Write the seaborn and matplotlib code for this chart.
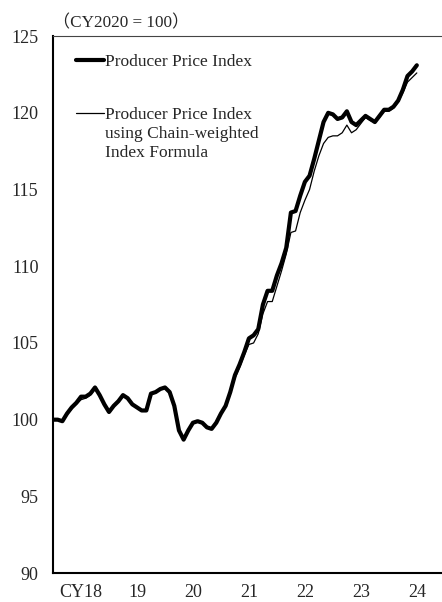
import matplotlib
matplotlib.use("Agg")
import matplotlib.pyplot as plt
import seaborn as sns
import pandas as pd
import numpy as np

# Monthly data, Jan 2018 - Jul 2024 (CY2020 = 100)
meses = pd.period_range("2018-01", "2024-07", freq="M")

ppi = [100.0, 100.0, 99.9, 100.4, 100.8, 101.1, 101.5, 101.5, 101.7, 102.1, 101.6, 101.0,
       100.5, 100.9, 101.2, 101.6, 101.4, 101.0, 100.8, 100.6, 100.6, 101.7, 101.8, 102.0,
       102.1, 101.8, 100.9, 99.3, 98.7, 99.3, 99.8, 99.9, 99.8, 99.5, 99.4, 99.8,
       100.4, 100.9, 101.8, 102.9, 103.6, 104.4, 105.3, 105.5, 105.9, 107.5, 108.4, 108.4,
       109.4, 110.2, 111.2, 113.5, 113.6, 114.6, 115.5, 115.9, 117.0, 118.2, 119.4, 120.0,
       119.9, 119.6, 119.7, 120.1, 119.4, 119.2, 119.5, 119.8, 119.6, 119.4, 119.8, 120.2,
       120.2, 120.4, 120.8, 121.5, 122.4, 122.7, 123.1]

ppi_cadena = [100.0, 100.0, 99.9, 100.3, 100.7, 101.0, 101.3, 101.4, 101.6, 102.0, 101.6, 101.0,
              100.5, 100.9, 101.2, 101.6, 101.4, 101.0, 100.8, 100.6, 100.6, 101.7, 101.8, 102.0,
              102.1, 101.8, 100.9, 99.3, 98.7, 99.3, 99.8, 99.9, 99.8, 99.5, 99.4, 99.8,
              100.4, 100.9, 101.7, 102.7, 103.4, 104.2, 104.9, 105.0, 105.6, 106.9, 107.7, 107.7,
              108.7, 109.7, 110.8, 112.2, 112.3, 113.5, 114.3, 115.0, 116.2, 117.2, 118.0, 118.4,
              118.5, 118.5, 118.7, 119.2, 118.7, 118.9, 119.3, 119.7, 119.5, 119.4, 119.7, 120.1,
              120.1, 120.3, 120.7, 121.3, 122.0, 122.3, 122.6]

etiquetas_anios = ["CY18", "19", "20", "21", "22", "23", "24"]
etiqueta_1 = "Producer Price Index"
etiqueta_2 = "Producer Price Index\nusing Chain-weighted\nIndex Formula"

# months since Jan 2018
x = [(m.year - 2018) * 12 + (m.month - 1) for m in meses]
df = pd.DataFrame({"mes": x, "ppi": ppi, "cadena": ppi_cadena})

sns.set_style("white")
plt.rcParams["font.family"] = ["Liberation Serif", "Noto Sans CJK JP"]

fig = plt.figure(figsize=(4.42, 6.02), dpi=100)
ax = fig.add_axes([0.12, 0.048, 0.88, 0.892])

sns.lineplot(data=df, x="mes", y="ppi", ax=ax, color="black", linewidth=3.0)
sns.lineplot(data=df, x="mes", y="cadena", ax=ax, color="black", linewidth=0.9)
h1, h2 = ax.lines[0], ax.lines[1]

ax.set_xlim(0, 83.4)
ax.set_ylim(90, 125)
ax.set_yticks(np.arange(90, 126, 5))
ax.set_xticks(np.arange(12, 84, 12))
ax.set_xticks(np.arange(6, 84, 12), minor=True)
ax.set_xticklabels([])
ax.set_xticklabels(etiquetas_anios, minor=True)
ax.tick_params(axis="x", which="major", direction="in", length=5, width=1, color="#555555")
ax.tick_params(axis="x", which="minor", length=0, pad=8, labelsize=13)
ax.tick_params(axis="y", direction="in", length=4, width=1, color="#555555", pad=10.5, labelsize=13)
ax.set_xlabel("")
ax.set_ylabel("")

for s in ["left", "bottom"]:
    ax.spines[s].set_color("black")
    ax.spines[s].set_linewidth(1.5)
ax.spines["top"].set_color("#444444")
ax.spines["top"].set_linewidth(0.8)
ax.spines["right"].set_visible(False)

leg = ax.legend([h1, h2], [etiqueta_1, etiqueta_2], loc="upper left",
                bbox_to_anchor=(0.06, 0.967), frameon=False, fontsize=12.5,
                handlelength=1.6, handletextpad=0.05, labelspacing=2.15,
                borderpad=0, borderaxespad=0)
for t in leg.get_texts():
    t.set_linespacing(1.25)
# put the handle on the first line of a multi-line label
for fila in leg._legend_handle_box.get_children():
    for item in fila.get_children():
        item.align = "top"

fig.text(0.12, 0.961, "（CY2020 = 100）", fontsize=12.3, ha="left", va="center")

fig.savefig("out.png", dpi=100)
